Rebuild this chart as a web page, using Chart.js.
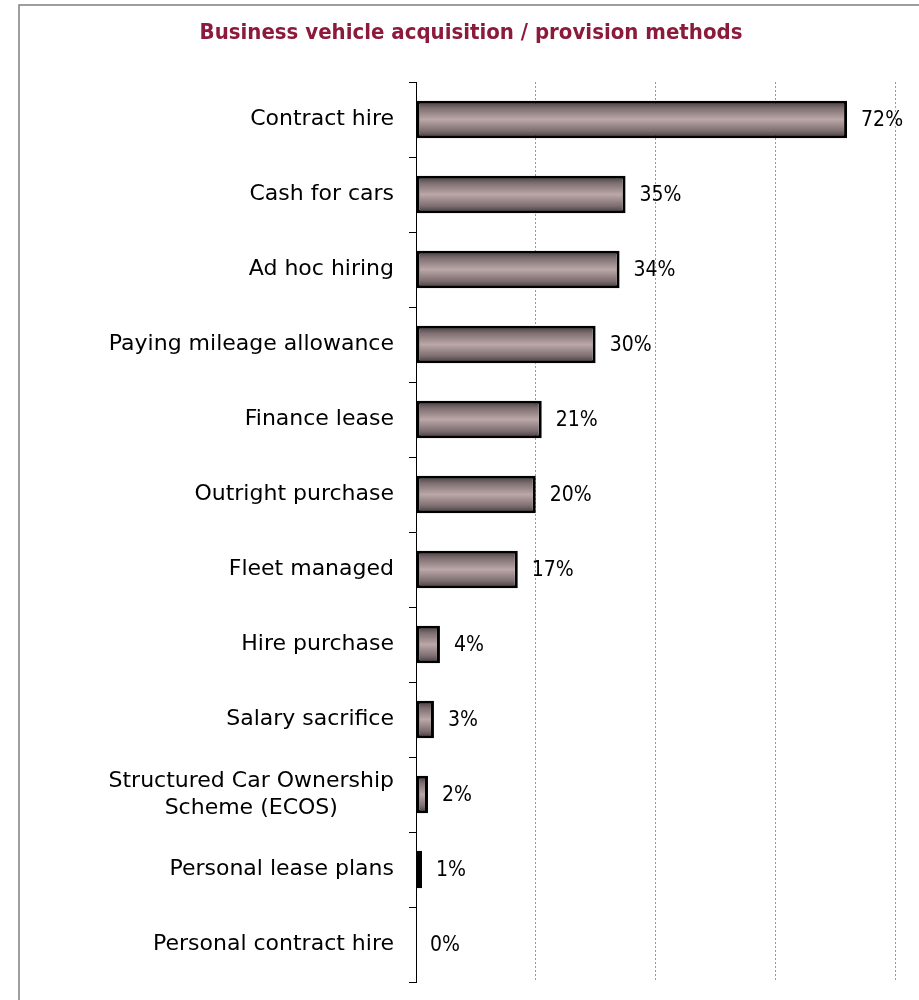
<!DOCTYPE html>
<html lang="en">
<head>
  <meta charset="UTF-8">
  <title>Business vehicle acquisition / provision methods</title>
  <script src="https://cdn.jsdelivr.net/npm/chart.js"></script>
  <style>
    html, body { margin: 0; padding: 0; background: #fff; }
    .chart-box { width: 919px; height: 1000px; }
  </style>
</head>
<body>
  <div class="chart-box">
    <canvas id="methodsChart" width="919" height="1000"></canvas>
  </div>

  <script>
    const methods = [
      'Contract hire',
      'Cash for cars',
      'Ad hoc hiring',
      'Paying mileage allowance',
      'Finance lease',
      'Outright purchase',
      'Fleet managed',
      'Hire purchase',
      'Salary sacrifice',
      ['Structured Car Ownership', 'Scheme (ECOS)'],
      'Personal lease plans',
      'Personal contract hire'
    ];
    const shares = [72, 35, 34, 30, 21, 20, 17, 4, 3, 2, 1, 0];
    const gridSteps = [0, 20, 40, 60, 80];

    const labelFont = '22px "DejaVu Sans", sans-serif';
    const valueFont = '21px "DejaVu Sans Condensed", "DejaVu Sans", sans-serif';

    // vertical shading of each bar, dark edges and light middle
    function barShade(context) {
      const chart = context.chart;
      const yScale = chart.scales.y;
      if (!yScale || context.dataIndex === undefined) return '#a89597';
      const mid = yScale.getPixelForValue(context.dataIndex);
      const half = yScale.height / methods.length * 0.25;
      if (!Number.isFinite(mid) || !Number.isFinite(half)) return '#a89597';
      const g = chart.ctx.createLinearGradient(0, mid - half, 0, mid + half);
      g.addColorStop(0, '#3f3538');
      g.addColorStop(0.2, '#7e6f72');
      g.addColorStop(0.5, '#bca7a8');
      g.addColorStop(0.8, '#7e6f72');
      g.addColorStop(1, '#3f3538');
      return g;
    }

    // outer frame lines
    const framePlugin = {
      id: 'frame',
      beforeDraw(chart) {
        const ctx = chart.ctx;
        ctx.save();
        ctx.strokeStyle = '#7f7f7f';
        ctx.lineWidth = 1.5;
        ctx.beginPath();
        ctx.moveTo(919, 5);
        ctx.lineTo(19, 5);
        ctx.lineTo(19, 1000);
        ctx.stroke();
        ctx.restore();
      }
    };

    // category names; wrapped names are centred on each other
    const categoryLabels = {
      id: 'categoryLabels',
      afterDraw(chart) {
        const ctx = chart.ctx;
        const yScale = chart.scales.y;
        const rightEdge = yScale.right - 22;
        ctx.save();
        ctx.font = labelFont;
        ctx.fillStyle = '#000';
        ctx.textBaseline = 'middle';
        ctx.textAlign = 'center';
        methods.forEach((name, i) => {
          const lines = Array.isArray(name) ? name : [name];
          const widest = Math.max(...lines.map(l => ctx.measureText(l).width));
          const cx = rightEdge - widest / 2;
          const cy = yScale.getPixelForValue(i);
          const lh = 27;
          lines.forEach((line, k) => {
            ctx.fillText(line, cx, cy + (k - (lines.length - 1) / 2) * lh);
          });
        });
        ctx.restore();
      }
    };

    // percentage next to each bar
    const valueLabels = {
      id: 'valueLabels',
      afterDatasetsDraw(chart) {
        const ctx = chart.ctx;
        const meta = chart.getDatasetMeta(0);
        ctx.save();
        ctx.font = valueFont;
        ctx.fillStyle = '#000';
        ctx.textAlign = 'left';
        ctx.textBaseline = 'middle';
        meta.data.forEach((bar, i) => {
          ctx.fillText(shares[i] + '%', bar.x + 14, bar.y + 1);
        });
        ctx.restore();
      }
    };

    const ctx = document.getElementById('methodsChart').getContext('2d');
    new Chart(ctx, {
      type: 'bar',
      data: {
        labels: methods,
        datasets: [{
          data: shares,
          backgroundColor: barShade,
          borderColor: '#000',
          borderWidth: 3,
          borderSkipped: false,
          barPercentage: 0.5,
          categoryPercentage: 1
        }]
      },
      options: {
        indexAxis: 'y',
        responsive: false,
        animation: false,
        layout: {
          padding: { left: 47, right: 24, top: 0, bottom: 18 }
        },
        plugins: {
          legend: { display: false },
          tooltip: { enabled: false },
          title: {
            display: true,
            text: 'Business vehicle acquisition / provision methods',
            color: '#8b1a3c',
            font: { family: '"DejaVu Sans Condensed", "DejaVu Sans", sans-serif', size: 22, weight: 'bold' },
            padding: { top: 20, bottom: 35.6 }
          }
        },
        scales: {
          x: {
            min: gridSteps[0],
            max: gridSteps[gridSteps.length - 1],
            afterBuildTicks(scale) {
              scale.ticks = gridSteps.map(v => ({ value: v }));
            },
            afterFit(scale) { scale.height = 0; },
            ticks: { display: false },
            grid: {
              drawTicks: false,
              color: c => (c.tick && c.tick.value === 0) ? 'rgba(0,0,0,0)' : '#9a9a9a',
              lineWidth: 1
            },
            border: { display: false, dash: [2, 2] }
          },
          y: {
            afterFit(scale) { scale.width = 416 - 47; },
            ticks: { display: false },
            grid: {
              offset: true,
              drawOnChartArea: false,
              color: '#000',
              tickLength: 7,
              lineWidth: 1
            },
            border: { display: true, color: '#000', width: 1 }
          }
        }
      },
      plugins: [framePlugin, categoryLabels, valueLabels]
    });
  </script>
</body>
</html>
